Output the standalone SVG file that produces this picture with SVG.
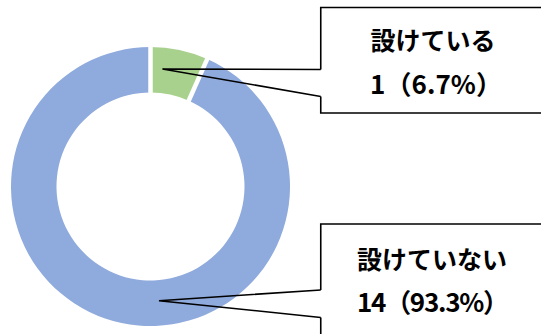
<svg xmlns="http://www.w3.org/2000/svg" width="541" height="334" viewBox="0 0 541 334">
  <style>
    .blue { fill: #8FAADC; }
    .green { fill: #A9D18E; }
    .sep { stroke: #FFFFFF; stroke-width: 4.5; fill: none; }
    .box { fill: none; stroke: #000000; stroke-width: 1.6; stroke-linejoin: miter; }
    .lead { fill: none; stroke: #000000; stroke-width: 1.6; stroke-linejoin: miter; }
    .lbl { font-family: "Noto Sans CJK JP", "Noto Sans", sans-serif; font-weight: bold; font-size: 25px; fill: #000000; }
    .num { font-family: "Noto Sans CJK JP", "Noto Sans", sans-serif; font-weight: bold; font-size: 26px; fill: #000000; }
  </style>
  <rect x="0" y="0" width="541" height="334" fill="#FFFFFF"/>
  <g id="slice-not-set">
    <path class="blue" d="M 207.24 59.06 A 139.5 139.5 0 1 1 150.5 47 L 150.5 92.5 A 94 94 0 1 0 188.73 100.63 Z"/>
  </g>
  <g id="slice-set">
    <path class="green" d="M 150.5 47 A 139.5 139.5 0 0 1 207.24 59.06 L 188.73 100.63 A 94 94 0 0 0 150.5 92.5 Z"/>
  </g>
  <g id="separators">
    <line class="sep" x1="150.5" y1="44" x2="150.5" y2="95"/>
    <line class="sep" x1="187.92" y1="102.46" x2="207.85" y2="57.69"/>
  </g>
  <g id="callout-set">
    <path class="box" d="M 545 7.5 H 320.75 V 69.5 M 320.75 96.5 V 113 H 545"/>
    <text class="lbl" x="370.5" y="50">設けている</text>
    <text class="num" x="370" y="94" textLength="132" lengthAdjust="spacing">1（6.7%）</text>
  </g>
  <g id="callout-not-set">
    <path class="box" d="M 545 224 H 320.75 V 290 M 320.75 317.5 V 340"/>
    <text class="lbl" x="357" y="268.5">設けていない</text>
    <text class="num" x="357" y="312" textLength="152" lengthAdjust="spacing">14（93.3%）</text>
  </g>
  <g id="connectors">
    <path class="lead" d="M 320.75 69.5 L 162.5 69 L 320.75 96.5"/>
    <path class="lead" d="M 320.75 290 L 159 300.7 L 320.75 317.5"/>
  </g>
</svg>
